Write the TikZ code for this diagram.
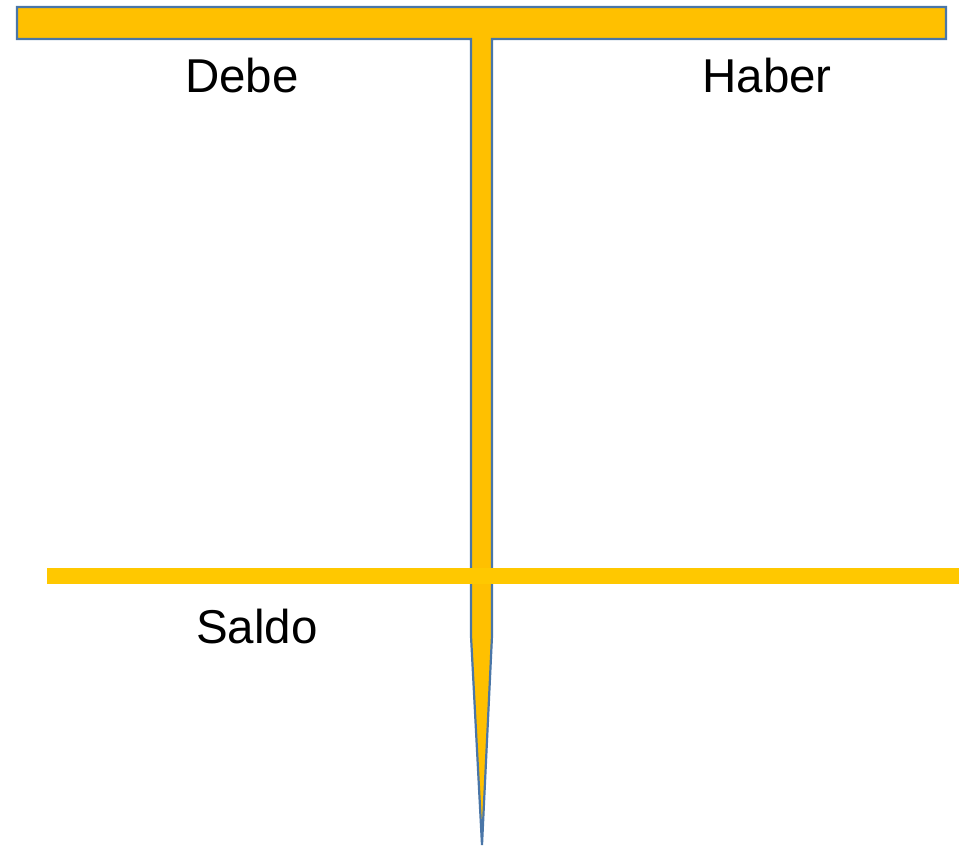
\documentclass[tikz,border=0pt]{standalone}
\usepackage{fontspec}
\setmainfont{Liberation Sans}
\definecolor{barfill}{HTML}{FFC000}
\definecolor{barline}{HTML}{4A76A8}
\definecolor{saldoline}{HTML}{FFC800}
\begin{document}
\begin{tikzpicture}[x=1pt,y=-1pt,
  tshape/.style={fill=barfill,draw=barline,line width=2.2pt,line join=miter},
  sline/.style={fill=saldoline},
  lbl/.style={font=\fontsize{47.5}{52}\selectfont,anchor=base,inner sep=0pt}]
\useasboundingbox (0,0) rectangle (959,847);
\path[tshape] (17,7) -- (946,7) -- (946,39) -- (492,39) -- (492,636)
  -- (482,845) -- (471,636) -- (471,39) -- (17,39) -- cycle;
\path[sline] (47,568) rectangle (959,584);
\node[lbl] (debe) at (242,92) {Debe};
\node[lbl] (haber) at (767,92) {Haber};
\node[lbl] (saldo) at (257,643) {Saldo};
\end{tikzpicture}
\end{document}
